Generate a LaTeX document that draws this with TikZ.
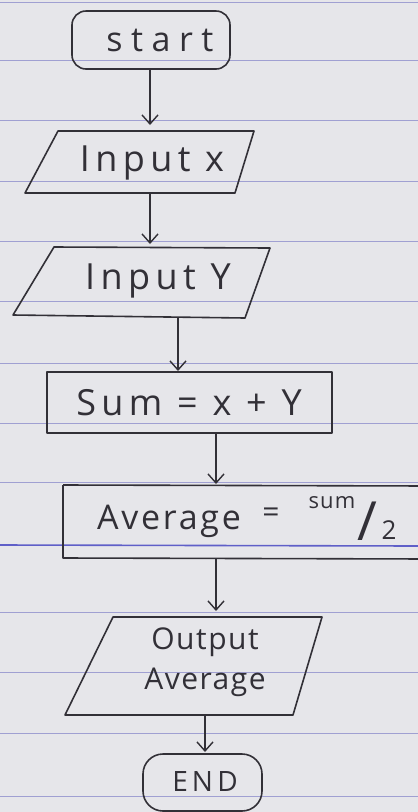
\documentclass[tikz,border=0pt]{standalone}
\usepackage{fontspec}
\setmainfont{Open Sans}
\usetikzlibrary{arrows.meta}
\definecolor{paper}{RGB}{230,230,234}
\definecolor{rulec}{RGB}{160,160,210}
\definecolor{rulestrong}{RGB}{95,95,200}
\definecolor{ink}{RGB}{50,48,55}
\begin{document}
\begin{tikzpicture}[x=1pt,y=-1pt,
  shapeline/.style={draw=ink, line width=1.6pt, line join=round},
  flow/.style={draw=ink, line width=1.4pt, -{Straight Barb[length=9pt,width=16pt,line width=1.4pt]}},
  lbl/.style={text=ink, font=\fontsize{36}{40}\selectfont\addfontfeature{LetterSpace=15}, inner sep=0pt, align=center},
  smalllbl/.style={text=ink, font=\fontsize{30}{40}\selectfont\addfontfeature{LetterSpace=5}, inner sep=0pt, align=center}]
\useasboundingbox (0,0) rectangle (418,812);
\clip (0,0) rectangle (418,812);
\fill[paper] (0,0) rectangle (418,812);
\foreach \yy in {2,60,120,181,241,301,363,423,482,612,672,733,796}
  \draw[rulec, line width=1pt] (0,\yy) -- (418,\yy);
\draw[rulestrong, line width=1.6pt] (0,545) -- (418,546);

% start
\draw[shapeline, rounded corners=14pt] (72,11) rectangle (230,69);
\node[lbl, font=\fontsize{34}{40}\selectfont\addfontfeature{LetterSpace=25}] (start) at (160,40) {start};
% input x
\draw[shapeline] (58,131) -- (254,131) -- (235,193) -- (25,193) -- cycle;
\node[lbl] (inx) at (152,163) {Input x};
% input Y
\draw[shapeline] (54,247) -- (270,248) -- (245,318) -- (13,315) -- cycle;
\node[lbl] (iny) at (158,281) {Input Y};
% sum
\draw[shapeline] (47,372) rectangle (332,433);
\node[lbl] (sum) at (189,403) {Sum = x + Y};
% average
\draw[shapeline] (63,485) -- (430,486);
\draw[shapeline] (63,485) -- (63,558) -- (430,559);
\node[lbl, font=\fontsize{34}{40}\selectfont\addfontfeature{LetterSpace=8}, anchor=west] (avg) at (97,521) {Average};
\node[lbl, font=\fontsize{30}{40}\selectfont] (eq) at (271,515) {=};
\node[lbl, font=\fontsize{22}{24}\selectfont\addfontfeature{LetterSpace=5}] (sumt) at (332,503) {sum};
\node[lbl, font=\fontsize{54}{54}\selectfont\addfontfeature{LetterSpace=0}] (slash) at (367,521) {/};
\node[lbl, font=\fontsize{26}{28}\selectfont\addfontfeature{LetterSpace=0}] (two) at (389,530) {2};
% output
\draw[shapeline] (113,617) -- (322,617) -- (293,715) -- (65,715) -- cycle;
\node[smalllbl] (out) at (205,662) {Output\\Average};
% end
\draw[shapeline, rounded corners=20pt] (143,754) rectangle (262,811);
\node[smalllbl, font=\fontsize{28}{30}\selectfont\addfontfeature{LetterSpace=15}] (endn) at (205,781) {END};

% connectors
\coordinate (c1a) at (150,70);  \coordinate (c1b) at (150,125);
\coordinate (c2a) at (150,193); \coordinate (c2b) at (150,244);
\coordinate (c3a) at (178,318); \coordinate (c3b) at (178,371);
\coordinate (c4a) at (216,433); \coordinate (c4b) at (216,484);
\coordinate (c5a) at (216,559); \coordinate (c5b) at (216,611);
\coordinate (c6a) at (205,715); \coordinate (c6b) at (205,752);
\draw[flow] (c1a) -- (c1b);
\draw[flow] (c2a) -- (c2b);
\draw[flow] (c3a) -- (c3b);
\draw[flow] (c4a) -- (c4b);
\draw[flow] (c5a) -- (c5b);
\draw[flow] (c6a) -- (c6b);
\end{tikzpicture}
\end{document}
